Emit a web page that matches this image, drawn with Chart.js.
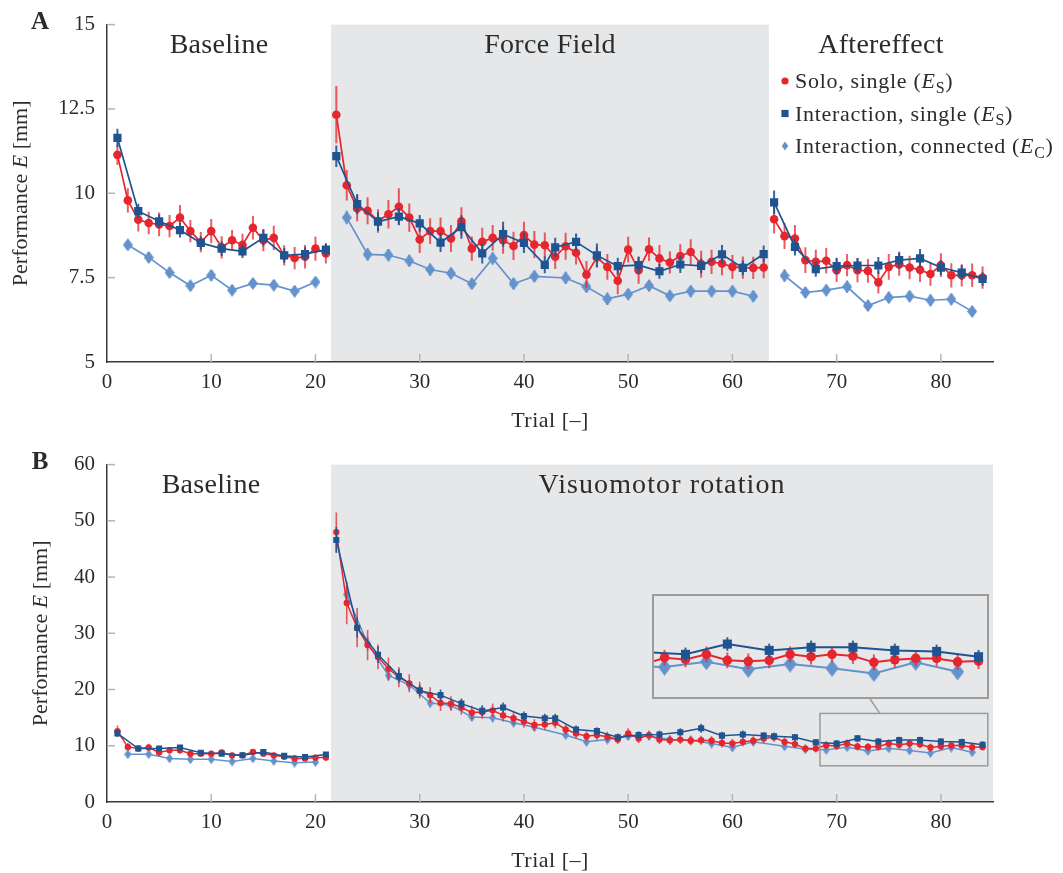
<!DOCTYPE html>
<html>
<head>
<meta charset="utf-8">
<script src="https://cdn.jsdelivr.net/npm/chart.js@4.4.1/dist/chart.umd.min.js"></script>
<style>
  body { margin: 0; background: #fff; }
  #wrap { position: relative; width: 1063px; height: 873px; }
  #wrap canvas { position: absolute; }
</style>
</head>
<body>
<div id="wrap">
  <canvas id="chartA" width="1063" height="440" style="left:0;top:0"></canvas>
  <canvas id="chartB" width="1063" height="433" style="left:0;top:440px"></canvas>
  <canvas id="chartInset" width="337" height="105" style="left:652px;top:594px"></canvas>
</div>
<script>
// trial numbers of each measurement
const soloTrials = [1,2,3,4,5,6,7,8,9,10,11,12,13,14,15,16,17,18,19,20,21,
  22,23,24,25,26,27,28,29,30,31,32,33,34,35,36,37,38,39,40,41,42,
  43,44,45,46,47,48,49,50,51,52,53,54,55,56,57,58,59,60,61,62,63,
  64,65,66,67,68,69,70,71,72,73,74,75,76,77,78,79,80,81,82,83,84];
const singleTrials = [1,3,5,7,9,11,13,15,17,19,21, 22,24,26,28,30,32,34,36,38,40,42,
  43,45,47,49,51,53,55,57,59,61,63, 64,66,68,70,72,74,76,78,80,82,84];
const connectedTrials = [2,4,6,8,10,12,14,16,18,20, 23,25,27,29,31,33,35,37,39,41,
  44,46,48,50,52,54,56,58,60,62, 65,67,69,71,73,75,77,79,81,83];

// Panel A: force field
const phaseLabelsA = ['Baseline', 'Force Field', 'Aftereffect'];
const phaseEdgesA = [0, 21.5, 63.5, 85];
const yTicksA = [5, 7.5, 10, 12.5, 15];
const soloA = [11.14, 9.79, 9.22, 9.12, 9.08, 9.03, 9.28, 8.88, 8.55, 8.88, 8.40, 8.61, 8.47, 8.98, 8.61, 8.68, 8.16, 8.08, 8.12, 8.36, 8.22,
  12.33, 10.24, 9.55, 9.48, 9.18, 9.38, 9.60, 9.28, 8.63, 8.88, 8.88, 8.66, 9.17, 8.36, 8.56, 8.68, 8.61, 8.44, 8.76, 8.48,
  8.46, 8.12, 8.43, 8.24, 7.59, 8.10, 7.82, 7.41, 8.33, 7.72, 8.34, 8.07, 7.95, 8.14, 8.26, 7.90, 7.97, 7.92, 7.82, 7.80, 7.79, 7.80,
  9.23, 8.73, 8.66, 8.02, 7.97, 8.00, 7.72, 7.87, 7.72, 7.70, 7.36, 7.82, 7.89, 7.80, 7.73, 7.61, 7.87, 7.57, 7.57, 7.57, 7.50];
const soloErrA = [0.30, 0.36, 0.35, 0.33, 0.35, 0.33, 0.37, 0.33, 0.30, 0.36, 0.33, 0.30, 0.33, 0.35, 0.33, 0.36, 0.30, 0.33, 0.35, 0.36, 0.30,
  0.85, 0.45, 0.38, 0.40, 0.35, 0.42, 0.55, 0.42, 0.40, 0.38, 0.40, 0.40, 0.42, 0.36, 0.42, 0.38, 0.40, 0.42, 0.40, 0.40,
  0.38, 0.36, 0.40, 0.35, 0.40, 0.30, 0.38, 0.40, 0.38, 0.40, 0.35, 0.40, 0.33, 0.35, 0.38, 0.40, 0.36, 0.35, 0.35, 0.33, 0.33, 0.32,
  0.42, 0.38, 0.40, 0.38, 0.36, 0.38, 0.35, 0.33, 0.36, 0.35, 0.33, 0.38, 0.33, 0.35, 0.36, 0.35, 0.35, 0.36, 0.33, 0.35, 0.33];
const singleA = [11.64, 9.47, 9.17, 8.91, 8.53, 8.36, 8.28, 8.68, 8.16, 8.20, 8.33,
  11.10, 9.68, 9.16, 9.31, 9.11, 8.54, 9.00, 8.22, 8.79, 8.53, 7.88,
  8.40, 8.56, 8.16, 7.84, 7.87, 7.69, 7.89, 7.85, 8.19, 7.79, 8.20,
  9.73, 8.41, 7.75, 7.84, 7.86, 7.86, 8.02, 8.07, 7.80, 7.65, 7.46];
const singleErrA = [0.27, 0.22, 0.20, 0.22, 0.20, 0.22, 0.20, 0.25, 0.22, 0.20, 0.18,
  0.32, 0.30, 0.28, 0.25, 0.25, 0.28, 0.35, 0.30, 0.37, 0.30, 0.25,
  0.28, 0.25, 0.35, 0.25, 0.25, 0.22, 0.25, 0.22, 0.28, 0.22, 0.25,
  0.35, 0.25, 0.22, 0.25, 0.22, 0.25, 0.25, 0.28, 0.22, 0.22, 0.20];
const connectedA = [8.47, 8.10, 7.65, 7.26, 7.57, 7.13, 7.33, 7.28, 7.10, 7.37,
  9.28, 8.19, 8.17, 8.00, 7.74, 7.63, 7.32, 8.07, 7.32, 7.54,
  7.49, 7.23, 6.87, 7.01, 7.26, 6.96, 7.10, 7.10, 7.10, 6.95,
  7.56, 7.06, 7.13, 7.23, 6.67, 6.91, 6.95, 6.83, 6.86, 6.50];
const connectedErrA = [0.15, 0.15, 0.14, 0.15, 0.16, 0.15, 0.14, 0.15, 0.16, 0.15,
  0.20, 0.18, 0.18, 0.17, 0.18, 0.17, 0.16, 0.18, 0.17, 0.17,
  0.18, 0.17, 0.18, 0.16, 0.17, 0.16, 0.17, 0.16, 0.16, 0.16,
  0.18, 0.16, 0.17, 0.18, 0.16, 0.17, 0.16, 0.17, 0.16, 0.15];

// Panel B: visuomotor rotation
const phaseLabelsB = ['Baseline', 'Visuomotor rotation'];
const phaseEdgesB = [0, 21.5, 85];
const yTicksB = [0, 10, 20, 30, 40, 50, 60];
const soloB = [12.6, 9.8, 9.5, 9.7, 8.8, 9.2, 9.2, 8.6, 8.6, 8.6, 8.8, 8.3, 8.3, 8.9, 8.6, 8.3, 8.05, 7.75, 7.75, 7.9, 7.9,
  48.0, 35.4, 31.0, 27.9, 25.8, 23.7, 22.2, 21.1, 19.9, 19.0, 17.6, 17.5, 16.8, 15.9, 16.0, 16.3, 15.4, 14.9, 14.3, 13.7,
  13.8, 14.1, 12.9, 12.2, 11.7, 11.9, 11.6, 11.1, 12.2, 11.3, 11.9, 11.1, 11.0, 11.1, 10.9, 11.0, 10.9, 10.5, 10.4, 10.7,
  10.9, 11.3, 11.5, 10.7, 10.3, 9.5, 9.5, 10.1, 9.95, 10.4, 9.87, 9.78, 9.87, 10.4, 10.19, 10.4, 10.25, 9.69, 9.92, 10.04,
  10.04, 9.74, 9.8];
const soloErrB = [1.0, 0.7, 0.6, 0.6, 0.6, 0.6, 0.6, 0.5, 0.5, 0.5, 0.5, 0.5, 0.5, 0.5, 0.5, 0.5, 0.5, 0.5, 0.5, 0.5, 0.5,
  3.5, 3.8, 3.5, 2.7, 2.2, 2.0, 1.8, 1.6, 1.5, 1.4, 1.4, 1.3, 1.3, 1.2, 1.2, 1.2, 1.1, 1.1, 1.1, 1.0,
  1.0, 1.0, 0.9, 0.9, 0.9, 0.9, 0.9, 0.8, 0.9, 0.8, 0.8, 0.8, 0.8, 0.8, 0.8, 0.8, 0.8, 0.8, 0.8, 0.8,
  0.8, 0.8, 0.8, 0.8, 0.7, 0.7, 0.7, 0.7, 0.7, 0.7, 0.7, 0.7, 0.7, 0.7, 0.7, 0.7, 0.7, 0.7, 0.7, 0.7,
  0.7, 0.7, 0.7];
const singleB = [12.2, 9.5, 9.5, 9.7, 8.75, 8.6, 8.3, 8.9, 8.2, 8.0, 8.45,
  46.6, 31.0, 26.2, 22.4, 19.8, 19.0, 17.5, 16.2, 16.8, 15.3, 14.9,
  14.9, 12.9, 12.6, 11.5, 11.9, 12.0, 12.4, 13.1, 11.8, 12.0, 11.8,
  11.7, 11.5, 10.6, 10.4, 11.31, 10.75, 11.02, 11.02, 10.75, 10.66, 10.19];
const singleErrB = [0.6, 0.4, 0.4, 0.4, 0.4, 0.4, 0.4, 0.4, 0.4, 0.4, 0.4,
  2.3, 1.8, 1.5, 1.2, 1.0, 1.0, 0.9, 0.9, 0.9, 0.8, 0.8,
  0.8, 0.7, 0.7, 0.7, 0.7, 0.7, 0.7, 0.8, 0.7, 0.7, 0.6,
  0.6, 0.6, 0.6, 0.6, 0.6, 0.6, 0.6, 0.6, 0.6, 0.6, 0.6];
const connectedB = [8.5, 8.5, 7.75, 7.6, 7.6, 7.2, 7.75, 7.3, 7.0, 7.1,
  36.9, 28.2, 22.5, 20.8, 17.6, 17.2, 15.1, 15.0, 14.1, 13.3,
  11.9, 10.7, 11.1, 11.7, 11.7, 11.1, 11.0, 10.4, 9.7, 10.7,
  9.9, 9.4, 9.27, 9.74, 9.07, 9.54, 9.16, 8.71, 9.69, 8.85];
const connectedErrB = [0.4, 0.4, 0.4, 0.4, 0.4, 0.4, 0.4, 0.4, 0.4, 0.4,
  1.5, 1.2, 1.0, 0.9, 0.8, 0.8, 0.7, 0.7, 0.6, 0.6,
  0.6, 0.6, 0.6, 0.6, 0.6, 0.6, 0.6, 0.6, 0.6, 0.6,
  0.5, 0.5, 0.5, 0.5, 0.5, 0.5, 0.5, 0.5, 0.5, 0.5];

// legend entries: label, subscript of E
const legendLabels = ['Solo, single', 'Interaction, single', 'Interaction, connected'];
const legendSubs = ['S', 'S', 'C'];

// zoomed window of panel B shown in the inset
const insetRangeX = [68.4, 84.5];
const insetRangeY = [6.44, 15.75];
const insetBox = { left: 652, top: 594, width: 337, height: 105 };

const FONT = "'Liberation Serif', 'DejaVu Serif', serif";
const RED = '#e6262e', BLUE = '#1f5490', LIGHT = '#6492cd', SHADE = '#e6e7e9', INK = '#2b2b2b';

Chart.defaults.font.family = FONT;
Chart.defaults.font.size = 21;
Chart.defaults.color = INK;

function diamond(w, h, color) {
  const c = document.createElement('canvas');
  c.width = w; c.height = h;
  const g = c.getContext('2d');
  g.fillStyle = color;
  g.beginPath();
  g.moveTo(w / 2, 0); g.lineTo(w, h / 2); g.lineTo(w / 2, h); g.lineTo(0, h / 2);
  g.closePath(); g.fill();
  return c;
}

// build {x, y, err} points, breaking the line between phases
function series(trials, values, errors, breaks, style) {
  const data = [];
  trials.forEach((t, i) => {
    const prev = data.length ? data[data.length - 1].x : null;
    breaks.forEach(b => { if (prev !== null && prev < b && t > b) data.push({ x: b, y: null }); });
    data.push({ x: t, y: values[i], err: errors[i] });
  });
  return Object.assign({ data, spanGaps: false, fill: false, tension: 0, pointBorderWidth: 0 }, style);
}

function styles(scale) {
  return {
    single: { borderColor: BLUE, backgroundColor: BLUE, pointBackgroundColor: BLUE, pointStyle: 'rect',
      pointRadius: scale.sq, borderWidth: scale.lw, errorColor: 'rgba(31,84,144,0.9)', errorWidth: scale.ew },
    solo: { borderColor: RED, backgroundColor: RED, pointBackgroundColor: RED, pointStyle: 'circle',
      pointRadius: scale.dot, borderWidth: scale.lw, errorColor: 'rgba(230,38,46,0.75)', errorWidth: scale.ew },
    connected: { borderColor: LIGHT, backgroundColor: LIGHT, pointBackgroundColor: LIGHT,
      pointStyle: diamond(scale.dw, scale.dh, LIGHT), pointRadius: scale.dh / 2,
      borderWidth: scale.lw, errorColor: LIGHT, errorWidth: scale.ew }
  };
}

function datasets(p, breaks, scale) {
  const s = styles(scale);
  // first dataset is drawn on top
  return [
    series(singleTrials, p.single, p.singleErr, breaks, s.single),
    series(soloTrials, p.solo, p.soloErr, breaks, s.solo),
    series(connectedTrials, p.connected, p.connectedErr, breaks, s.connected)
  ];
}

const errorBars = {
  id: 'errorBars',
  beforeDatasetDraw(chart, args) {
    const ds = chart.data.datasets[args.index];
    const { ctx, chartArea: a, scales: { y } } = chart;
    ctx.save();
    ctx.beginPath();
    ctx.rect(a.left, a.top, a.right - a.left, a.bottom - a.top);
    ctx.clip();
    ctx.strokeStyle = ds.errorColor;
    ctx.lineWidth = ds.errorWidth;
    args.meta.data.forEach((el, i) => {
      const p = ds.data[i];
      if (p.y == null || !p.err) return;
      ctx.beginPath();
      ctx.moveTo(el.x, y.getPixelForValue(p.y - p.err));
      ctx.lineTo(el.x, y.getPixelForValue(p.y + p.err));
      ctx.stroke();
    });
    ctx.restore();
  }
};

function fontFor(s, size) {
  if (s === 'i') return `italic ${size}px ${FONT}`;
  if (s === 'sub') return `${Math.round(size * 0.72)}px ${FONT}`;
  return `${size}px ${FONT}`;
}
function richWidth(ctx, parts, size) {
  let w = 0;
  parts.forEach(([t, s]) => { ctx.font = fontFor(s, size); w += ctx.measureText(t).width; });
  return w;
}
// draw text runs on one baseline starting at x
function richText(ctx, parts, x, y, size) {
  ctx.textBaseline = 'alphabetic';
  ctx.textAlign = 'left';
  parts.forEach(([t, s]) => {
    ctx.font = fontFor(s, size);
    ctx.fillText(t, x, s === 'sub' ? y + size * 0.22 : y);
    x += ctx.measureText(t).width;
  });
}

const decor = {
  id: 'decor',
  beforeDraw(chart, args, o) {
    const { ctx, chartArea: a, scales: { x } } = chart;
    ctx.save();
    ctx.fillStyle = SHADE;
    for (let i = 1; i < o.edges.length - 1; i += 2) {
      const x0 = x.getPixelForValue(o.edges[i]), x1 = x.getPixelForValue(o.edges[i + 1]);
      ctx.fillRect(x0, a.top, x1 - x0, a.bottom - a.top);
    }
    ctx.restore();
  },
  beforeDatasetsDraw(chart) {
    // short inward tick marks
    const { ctx, chartArea: a, scales: { x, y } } = chart;
    ctx.save();
    ctx.strokeStyle = '#b4b4b4';
    ctx.lineWidth = 1.5;
    x.ticks.forEach(t => {
      const px = x.getPixelForValue(t.value);
      if (px <= a.left + 1) return;
      ctx.beginPath(); ctx.moveTo(px, a.bottom); ctx.lineTo(px, a.bottom - 8); ctx.stroke();
    });
    y.ticks.forEach(t => {
      const py = y.getPixelForValue(t.value);
      if (py >= a.bottom - 1) return;
      ctx.beginPath(); ctx.moveTo(a.left, py); ctx.lineTo(a.left + 8, py); ctx.stroke();
    });
    ctx.restore();
  },
  afterDraw(chart, args, o) {
    const { ctx, chartArea: a, scales: { x, y } } = chart;
    ctx.save();
    ctx.fillStyle = INK;

    // phase names
    ctx.font = `28px ${FONT}`;
    ctx.textAlign = 'center';
    ctx.textBaseline = 'alphabetic';
    o.labels.forEach((l, i) => {
      const cx = x.getPixelForValue((o.edges[i] + o.edges[i + 1]) / 2);
      ctx.letterSpacing = (o.labelSpacing[i] || 0) + 'px';
      ctx.fillText(l, cx + (o.labelShift[i] || 0), a.top + 28);
    });
    ctx.letterSpacing = '0px';

    // panel letter
    ctx.font = `bold 25px ${FONT}`;
    ctx.fillText(o.letter, 40, a.top + 4);

    // axis titles
    const xt = [['Trial [–]', '']];
    ctx.letterSpacing = '0.5px';
    richText(ctx, xt, (a.left + a.right) / 2 - richWidth(ctx, xt, 22) / 2, a.bottom + 65, 22);
    ctx.letterSpacing = '0px';
    const yt = [['Performance ', ''], ['E', 'i'], [' [mm]', '']];
    ctx.translate(o.yTitleX, (a.top + a.bottom) / 2);
    ctx.rotate(-Math.PI / 2);
    richText(ctx, yt, -richWidth(ctx, yt, 22) / 2, 0, 22);
    ctx.setTransform(1, 0, 0, 1, 0, 0);

    if (o.legend) {
      const marks = [
        g => { g.beginPath(); g.arc(0, 0, 3.6, 0, Math.PI * 2); g.fillStyle = RED; g.fill(); },
        g => { g.fillStyle = BLUE; g.fillRect(-3.6, -3.6, 7.2, 7.2); },
        g => { g.fillStyle = LIGHT; g.beginPath(); g.moveTo(0, -4.6); g.lineTo(3.2, 0); g.lineTo(0, 4.6); g.lineTo(-3.2, 0); g.closePath(); g.fill(); }
      ];
      ctx.letterSpacing = '0.7px';
      legendLabels.forEach((l, i) => {
        const by = 88 + i * 32.5;
        ctx.save();
        ctx.translate(785, by - 7);
        marks[i](ctx);
        ctx.restore();
        ctx.fillStyle = INK;
        richText(ctx, [[l + ' (', ''], ['E', 'i'], [legendSubs[i], 'sub'], [')', '']], 795, by, 22);
      });
      ctx.letterSpacing = '0px';
    }

    if (o.inset) {
      // outline of the zoomed window and its link to the inset
      const sx0 = x.getPixelForValue(insetRangeX[0]), sx1 = x.getPixelForValue(insetRangeX[1]);
      const sy0 = y.getPixelForValue(insetRangeY[1]), sy1 = y.getPixelForValue(insetRangeY[0]);
      const top = chart.canvas.offsetTop;
      ctx.strokeStyle = '#9b9b9b';
      ctx.lineWidth = 1.5;
      ctx.strokeRect(sx0, sy0, sx1 - sx0, sy1 - sy0);
      ctx.beginPath();
      ctx.moveTo(insetBox.left + insetBox.width * 0.647, insetBox.top + insetBox.height - top);
      ctx.lineTo(sx0 + (sx1 - sx0) * 0.357, sy0);
      ctx.stroke();
    }
    ctx.restore();
  }
};

function panelConfig(p) {
  return {
    type: 'line',
    data: { datasets: datasets(p, p.breaks, { sq: p.sq, dot: p.dot, dw: p.dw, dh: p.dh, lw: p.lw, ew: p.ew }) },
    options: {
      responsive: false,
      animation: false,
      devicePixelRatio: 1,
      layout: { padding: { top: 24, right: 70, left: 0, bottom: 0 } },
      plugins: {
        legend: { display: false },
        tooltip: { enabled: false },
        decor: p.decor
      },
      scales: {
        x: {
          type: 'linear', min: 0, max: 85,
          afterFit: s => { s.height = p.xHeight; },
          grid: { display: false, drawTicks: false },
          border: { display: true, color: '#3a3a3a', width: 1.5 },
          ticks: { stepSize: 10, includeBounds: false, padding: 8, maxRotation: 0, color: INK }
        },
        y: {
          type: 'linear', min: p.yTicks[0], max: p.yTicks[p.yTicks.length - 1],
          afterFit: s => { s.width = 107; },
          afterBuildTicks: s => { s.ticks = p.yTicks.map(v => ({ value: v })); },
          grid: { display: false, drawTicks: false },
          border: { display: true, color: '#3a3a3a', width: 1.5 },
          ticks: { padding: 12, color: INK }
        }
      }
    },
    plugins: [errorBars, decor]
  };
}

new Chart(document.getElementById('chartA'), panelConfig({
  solo: soloA, soloErr: soloErrA, single: singleA, singleErr: singleErrA,
  connected: connectedA, connectedErr: connectedErrA,
  breaks: [21.5, 63.5], yTicks: yTicksA, xHeight: 78,
  sq: 5.8, dot: 4.3, dw: 10, dh: 13, lw: 1.7, ew: 2,
  decor: { edges: phaseEdgesA, labels: phaseLabelsA, labelShift: [], labelSpacing: [0.3, 0.3, 0.3], letter: 'A', yTitleX: 27, legend: true }
}));

new Chart(document.getElementById('chartB'), panelConfig({
  solo: soloB, soloErr: soloErrB, single: singleB, singleErr: singleErrB,
  connected: connectedB, connectedErr: connectedErrB,
  breaks: [21.5], yTicks: yTicksB, xHeight: 71,
  sq: 4.3, dot: 3.2, dw: 7, dh: 10, lw: 1.5, ew: 1.6,
  decor: { edges: phaseEdgesB, labels: phaseLabelsB, labelShift: [-8], labelSpacing: [0.3, 1.1], letter: 'B', yTitleX: 47, inset: true }
}));

// magnified view of the late rotation trials
const insetDecor = {
  id: 'insetDecor',
  beforeDraw(chart) {
    const { ctx, width, height } = chart;
    ctx.save();
    ctx.fillStyle = SHADE;
    ctx.fillRect(0, 0, width, height);
    ctx.restore();
  },
  afterDraw(chart) {
    const { ctx, width, height } = chart;
    ctx.save();
    ctx.strokeStyle = '#9b9b9b';
    ctx.lineWidth = 2;
    ctx.strokeRect(1, 1, width - 2, height - 2);
    ctx.restore();
  }
};

new Chart(document.getElementById('chartInset'), {
  type: 'line',
  data: {
    datasets: datasets({ solo: soloB, soloErr: soloErrB, single: singleB, singleErr: singleErrB,
      connected: connectedB, connectedErr: connectedErrB }, [21.5],
      { sq: 6.4, dot: 4.8, dw: 13, dh: 17, lw: 2, ew: 2 })
  },
  options: {
    responsive: false,
    animation: false,
    devicePixelRatio: 1,
    layout: { padding: 0, autoPadding: false },
    plugins: { legend: { display: false }, tooltip: { enabled: false } },
    scales: {
      x: { type: 'linear', display: false, min: insetRangeX[0], max: insetRangeX[1] },
      y: { type: 'linear', display: false, min: insetRangeY[0], max: insetRangeY[1] }
    }
  },
  plugins: [errorBars, insetDecor]
});
</script>
</body>
</html>
